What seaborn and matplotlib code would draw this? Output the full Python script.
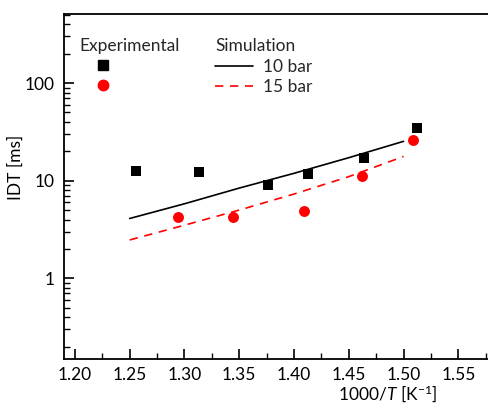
import matplotlib
matplotlib.use("Agg")
import matplotlib.pyplot as plt
import seaborn as sns
import pandas as pd
from matplotlib.lines import Line2D
from matplotlib.ticker import LogLocator, FixedLocator, MultipleLocator, NullFormatter

# experimental ignition delay times
exp10_x = [1.256, 1.313, 1.376, 1.413, 1.464, 1.512]
exp10_idt = [12.7, 12.4, 9.1, 11.6, 16.9, 34.4]
exp15_x = [1.294, 1.344, 1.409, 1.462, 1.509]
exp15_idt = [4.25, 4.2, 4.85, 11.1, 26.1]

# simulation curves
sim_x = [1.25, 1.30, 1.35, 1.40, 1.45, 1.50]
sim10_idt = [4.1, 5.8, 8.4, 11.9, 17.2, 25.3]
sim15_idt = [2.47, 3.5, 5.0, 7.3, 11.0, 17.7]

x_ticks = [1.20, 1.25, 1.30, 1.35, 1.40, 1.45, 1.50, 1.55]
y_ticks = [1, 10, 100]

FS = 12.5

sns.set_theme(style="ticks")
plt.rcParams["font.family"] = ["Lato", "DejaVu Sans"]
plt.rcParams["mathtext.fontset"] = "custom"
plt.rcParams["mathtext.it"] = "Lato:italic"
plt.rcParams["mathtext.rm"] = "Lato"

fig = plt.figure(figsize=(4.89, 4.05), dpi=100)
ax = fig.add_axes([64 / 489, 1 - 359 / 405, 1 - 64 / 489, 345 / 405])

sim10 = pd.DataFrame({"x": sim_x, "idt": sim10_idt})
sim15 = pd.DataFrame({"x": sim_x, "idt": sim15_idt})
sns.lineplot(data=sim10, x="x", y="idt", ax=ax, color="black", lw=1.2)
sns.lineplot(data=sim15, x="x", y="idt", ax=ax, color="red", lw=1.2)
ax.lines[-1].set_dashes([5, 4])

sns.scatterplot(x=exp10_x, y=exp10_idt, ax=ax, marker="s", color="black", s=52, linewidth=0)
sns.scatterplot(x=exp15_x, y=exp15_idt, ax=ax, marker="o", color="red", s=62, linewidth=0)

ax.set_yscale("log")
ax.set_xlim(1.19, 1.578)
ax.set_ylim(0.149, 510)

ax.xaxis.set_major_locator(FixedLocator(x_ticks))
ax.xaxis.set_minor_locator(MultipleLocator(0.025))
ax.set_xticklabels([f"{v:.2f}" for v in x_ticks])
ax.yaxis.set_major_locator(FixedLocator(y_ticks))
ax.set_yticklabels([str(v) for v in y_ticks])
ax.yaxis.set_minor_locator(LogLocator(base=10, subs=range(2, 10)))
ax.yaxis.set_minor_formatter(NullFormatter())

ax.tick_params(which="major", direction="in", length=7, width=1.2, labelsize=FS,
               colors="black")
ax.tick_params(axis="x", which="major", pad=6)
ax.tick_params(axis="y", which="major", pad=7)
ax.tick_params(which="minor", direction="in", length=4, width=1.0, colors="black")
ax.tick_params(axis="y", which="both", left=True, right=False)
ax.tick_params(axis="x", which="both", bottom=True, top=False)

for side in ["left", "bottom", "top"]:
    ax.spines[side].set_color("black")
    ax.spines[side].set_linewidth(1.3)
ax.spines["right"].set_visible(False)

ax.set_xlabel("1000/$T$ [K$^{-1}$]", fontsize=FS, color="black")
ax.xaxis.set_label_coords(0.762, -0.07)
ax.set_ylabel("IDT [ms]", fontsize=FS, color="black")
ax.yaxis.set_label_coords(-0.094, (359 - 167.5) / 345)

exp_handles = [
    Line2D([], [], marker="s", color="black", ls="none", markersize=6.5),
    Line2D([], [], marker="o", color="red", ls="none", markersize=7.5),
]
leg1 = ax.legend(exp_handles, ["", ""], title="Experimental", loc="upper left",
                 bbox_to_anchor=(0.021, 0.95), frameon=False, fontsize=FS,
                 title_fontsize=FS, handlelength=2.65, handletextpad=0,
                 labelspacing=0.22, borderaxespad=0)
leg1._legend_box.align = "left"
ax.add_artist(leg1)

sim_handles = [
    Line2D([], [], color="black", lw=1.2),
    Line2D([], [], color="red", lw=1.2, dashes=[5, 4]),
]
leg2 = ax.legend(sim_handles, ["10 bar", "15 bar"], title="Simulation", loc="upper left",
                 bbox_to_anchor=(0.339, 0.95), frameon=False, fontsize=FS,
                 title_fontsize=FS, handlelength=2.2, handletextpad=0.57,
                 labelspacing=0.26, borderaxespad=0)
leg2._legend_box.align = "left"

fig.savefig("out.png", dpi=100)
